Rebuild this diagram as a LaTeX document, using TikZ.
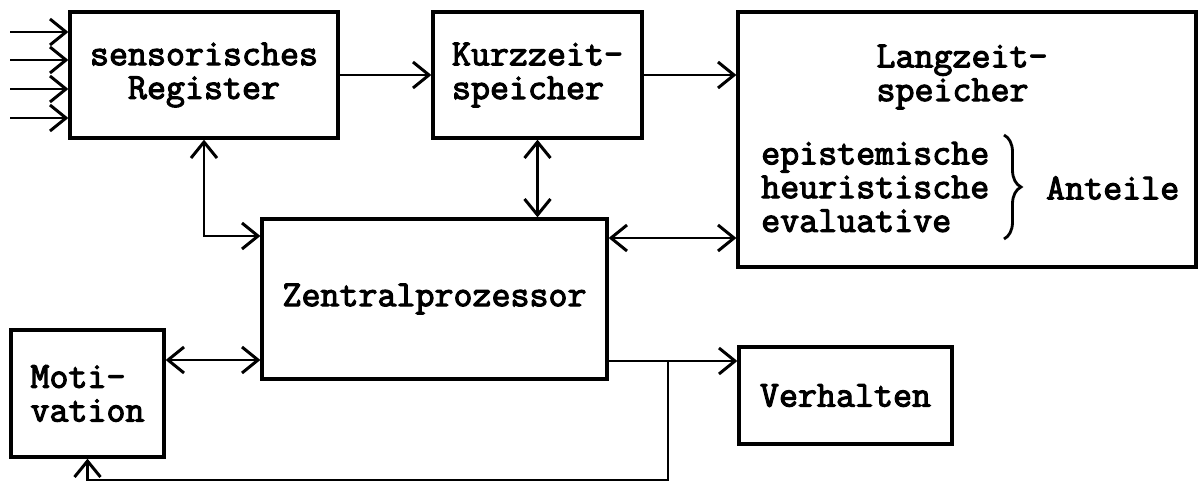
\documentclass[tikz,border=0pt]{standalone}
\usepackage{fontspec}
\setmonofont{Latin Modern Mono}[FakeBold=3]
\usetikzlibrary{arrows.meta,decorations.pathreplacing}
\tikzset{
  blockbox/.style={draw, line width=1.9pt, inner sep=0pt, align=center},
  flow/.style={line width=1.7pt},
}
\begin{document}
\begin{tikzpicture}[x=0.02cm, y=-0.02cm, >={Straight Barb[length=0.32cm,width=0.52cm,line width=1.7pt]},
  font=\ttfamily\fontsize{21}{19.2}\selectfont]
\useasboundingbox (0,0) rectangle (1198,483);
% Speicher oben
\node[blockbox, minimum width=5.36cm, minimum height=2.52cm] (sens) at (204,75) {sensorisches\\Register};
\node[blockbox, align=left, minimum width=4.18cm, minimum height=2.52cm] (kurz) at (537.5,75) {Kurzzeit-\\speicher};
\node[blockbox, minimum width=9.16cm, minimum height=5.1cm] (lang) at (967,139.5) {};
\node[align=left] (langtitel) at (962,77) {Langzeit-\\speicher};
\node[align=left, anchor=west] (arten) at (755,187) {epistemische\\heuristische\\evaluative};
\draw[decorate, decoration={brace, amplitude=0.34cm}, line width=1.6pt] (1004,135) -- (1004,239);
\node[anchor=west] (anteile) at (1040,188) {Anteile};
% Prozessor, Motivation, Verhalten
\node[blockbox, minimum width=6.9cm, minimum height=3.2cm] (zentral) at (434.5,299) {Zentralprozessor};
\node[blockbox, align=left, minimum width=3.06cm, minimum height=2.54cm] (motiv) at (87.5,393.5) {Moti-\\vation};
\node[blockbox, minimum width=4.26cm, minimum height=1.94cm] (verh) at (845.5,395.5) {Verhalten};
% Eingaben
\foreach \y [count=\i] in {32,60,89,118} {
  \coordinate (in\i) at (10,\y);
  \draw[flow, ->] (in\i) -- (in\i -| sens.west);
}
% Verbindungen
\coordinate (sz) at (0,236);
\coordinate (zl) at (0,238);
\coordinate (mz) at (0,360);
\coordinate (zv) at (0,361);
\coordinate (split) at (668,361);
\coordinate (bend) at (668,480);
\draw[flow, ->] (sens) -- (kurz);
\draw[flow, ->] (kurz.east) -- (kurz.east -| lang.west);
\draw[flow, <->] (sens.south) |- (sz -| zentral.west);
\draw[flow, <->] (kurz.south) -- (kurz.south |- zentral.north);
\draw[flow, <->] (zl -| zentral.east) -- (zl -| lang.west);
\draw[flow, <->] (mz -| motiv.east) -- (mz -| zentral.west);
\draw[flow, ->] (zv -| zentral.east) -- (zv -| verh.west);
\draw[flow, ->] (split) -- (bend) -| (motiv.south);
\end{tikzpicture}
\end{document}
